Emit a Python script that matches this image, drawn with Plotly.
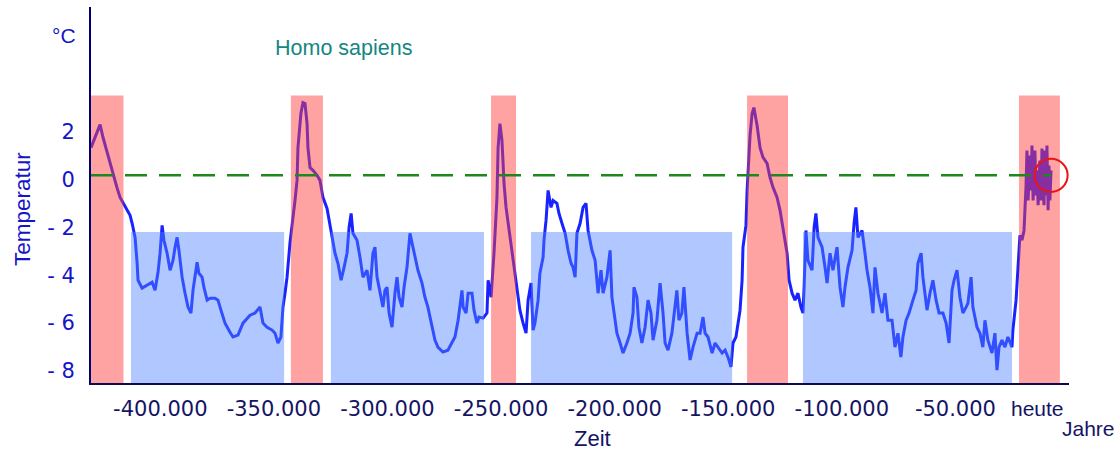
import plotly.graph_objects as go

# ---- data (years before present in thousands, temperature anomaly in °C) ----
age_ka = [
    -430.5, -426.5, -425.2, -422.1, -420.8, -419.1, -417.7, -416.4, -413.3, -412.4,
    -411.1, -410.2, -409.8, -408.0, -405.8, -403.6, -402.3, -401.0, -400.1, -399.2,
    -398.4, -397.0, -395.7, -394.4, -393.5, -392.6, -391.8, -390.4, -389.1, -387.8,
    -386.5, -385.6, -383.8, -383.0, -381.6, -380.8, -379.4, -378.1, -375.9, -374.6,
    -373.3, -371.5, -369.3, -368.0, -365.8, -363.6, -360.5, -358.3, -356.1, -354.8,
    -353.0, -350.8, -349.5, -348.2, -346.9, -346.0, -345.1, -344.2, -342.9, -341.6,
    -340.7, -339.8, -339.4, -338.1, -337.2, -336.3, -335.4, -335.0, -334.1, -332.8,
    -331.0, -329.7, -328.4, -326.6, -325.7, -324.4, -323.1, -321.8, -320.4, -319.1,
    -317.8, -316.9, -316.0, -315.2, -313.4, -312.1, -310.8, -309.0, -307.7, -306.4,
    -305.5, -304.6, -303.3, -302.0, -301.1, -300.2, -299.3, -298.0, -296.7, -295.8,
    -294.9, -293.6, -292.7, -291.4, -290.1, -288.8, -287.9, -286.6, -284.8, -283.5,
    -282.2, -280.4, -279.1, -277.8, -275.6, -273.4, -271.6, -270.3, -268.9, -267.2,
    -266.7, -265.4, -264.5, -262.8, -261.9, -260.6, -259.7, -257.9, -256.2, -255.7,
    -254.4, -253.1, -251.8, -251.3, -250.5, -249.6, -249.1, -248.7, -247.8, -246.9,
    -245.2, -244.3, -243.0, -241.7, -240.3, -239.0, -238.1, -236.8, -235.9, -235.1,
    -233.7, -232.9, -231.5, -231.1, -230.2, -229.3, -228.0, -227.1, -225.4, -224.5,
    -223.2, -221.8, -220.5, -219.2, -218.3, -217.4, -216.6, -215.2, -213.9, -212.6,
    -211.7, -210.0, -208.6, -207.3, -206.0, -205.1, -203.4, -202.0, -201.2, -200.3,
    -199.0, -197.6, -196.3, -194.6, -193.2, -191.9, -191.5, -190.2, -189.3, -188.0,
    -186.6, -185.3, -184.0, -183.1, -181.4, -180.0, -178.7, -177.8, -176.5, -174.8,
    -173.9, -172.6, -171.7, -170.4, -169.5, -168.1, -166.8, -165.5, -163.7, -162.4,
    -161.1, -160.2, -158.9, -157.1, -155.8, -154.5, -152.7, -151.4, -150.1, -148.8,
    -147.9, -146.6, -145.7, -144.8, -143.9, -143.5, -142.2, -141.7, -140.4, -139.5,
    -138.7, -137.3, -136.0, -134.7, -132.9, -131.6, -130.3, -128.5, -127.2, -125.9,
    -124.1, -123.2, -121.9, -120.6, -119.3, -118.0, -117.1, -116.6, -115.8, -114.9,
    -113.1, -112.2, -111.4, -110.5, -108.7, -107.4, -106.5, -105.2, -103.9, -102.1,
    -100.8, -99.5, -98.6, -97.3, -95.5, -94.6, -93.8, -92.9, -91.1, -89.8,
    -88.9, -87.6, -86.3, -85.4, -84.1, -82.3, -81.0, -79.7, -77.9, -76.6,
    -75.3, -74.0, -73.1, -71.7, -70.4, -68.7, -67.3, -66.5, -65.1, -64.3,
    -62.5, -61.2, -59.9, -58.5, -57.2, -55.5, -54.1, -52.8, -51.5, -50.6,
    -49.3, -48.0, -46.7, -45.3, -44.5, -43.1, -42.3, -40.5, -39.2, -37.9,
    -37.0, -35.7, -33.9, -32.6, -31.7, -30.8, -29.5, -28.2, -26.9, -25.1,
    -24.7, -23.3, -22.4, -21.6, -20.7, -19.8, -18.9, -18.5, -18.0, -17.2,
    -16.7, -16.3, -15.8, -15.0, -14.5, -14.1, -13.6, -12.8, -12.3, -11.9,
    -11.4, -11.0, -10.6, -10.1, -9.7, -9.2, -8.8, -8.4, -7.9,
]
temp_c = [
    1.33, 2.29, 1.75, 0.67, 0.17, -0.33, -0.75, -0.96, -1.50, -1.83,
    -2.42, -3.50, -4.21, -4.54, -4.42, -4.29, -4.63, -3.88, -3.08, -1.92,
    -2.54, -3.08, -3.79, -3.38, -2.83, -2.42, -2.96, -4.08, -4.75, -5.33,
    -5.58, -4.63, -3.46, -3.92, -4.08, -4.50, -5.04, -4.96, -4.96, -5.04,
    -5.46, -6.00, -6.38, -6.58, -6.50, -6.00, -5.67, -5.58, -5.33, -6.00,
    -6.17, -6.29, -6.42, -6.83, -6.58, -5.33, -4.75, -4.08, -2.63, -1.71,
    -0.88, -0.04, 1.33, 2.75, 3.21, 3.17, 2.33, 1.33, 0.50, 0.38,
    0.17, -0.04, -0.75, -1.21, -1.71, -2.25, -3.08, -3.50, -4.21, -3.67,
    -3.08, -2.00, -1.42, -2.25, -2.54, -3.25, -4.08, -3.79, -4.63, -3.08,
    -2.83, -4.08, -4.75, -5.33, -4.63, -4.50, -5.58, -6.17, -4.75, -4.08,
    -4.92, -5.33, -4.50, -3.67, -2.25, -2.83, -3.25, -3.79, -4.33, -4.92,
    -5.33, -6.17, -6.71, -7.00, -7.21, -7.13, -6.83, -6.58, -5.88, -4.63,
    -5.33, -5.58, -4.75, -4.75, -5.46, -6.00, -5.75, -5.79, -5.58, -4.21,
    -4.92, -3.08, -0.75, 1.33, 2.33, 1.63, 0.67, -0.17, -1.17, -1.83,
    -3.08, -3.50, -4.63, -5.46, -6.00, -6.42, -5.04, -4.33, -6.29, -6.00,
    -5.04, -3.92, -3.25, -2.54, -1.71, -0.46, -1.17, -0.88, -1.00, -1.42,
    -1.83, -2.25, -2.96, -3.50, -3.67, -4.08, -2.25, -1.83, -1.17, -1.00,
    -2.13, -2.96, -3.38, -4.75, -3.79, -4.75, -4.08, -2.96, -4.92, -5.58,
    -6.42, -6.83, -7.25, -6.83, -6.42, -5.58, -4.50, -4.92, -6.17, -6.83,
    -6.17, -5.04, -5.58, -6.71, -5.88, -4.33, -5.58, -6.83, -7.13, -6.42,
    -5.58, -4.63, -5.88, -5.58, -4.50, -6.42, -7.54, -7.00, -6.42, -6.42,
    -5.75, -6.42, -6.58, -7.25, -6.83, -7.00, -7.25, -7.13, -7.42, -7.83,
    -6.83, -6.58, -6.00, -5.46, -4.21, -2.83, -1.92, -0.46, 1.83, 2.75,
    3.00, 2.25, 1.33, 0.92, 0.67, 0.08, -0.33, -0.75, -1.29, -2.00,
    -3.08, -4.21, -4.75, -5.04, -4.75, -5.33, -5.58, -4.50, -2.13, -3.38,
    -3.79, -2.00, -1.42, -2.42, -2.83, -3.67, -4.33, -3.08, -3.79, -2.83,
    -4.50, -5.33, -4.50, -3.67, -2.96, -1.83, -1.17, -2.42, -2.13, -3.08,
    -3.79, -4.50, -5.58, -3.67, -4.75, -5.58, -4.75, -5.88, -5.88, -7.00,
    -6.42, -7.42, -6.58, -5.88, -5.58, -5.04, -4.63, -3.50, -3.08, -4.08,
    -5.46, -4.75, -4.21, -5.04, -5.58, -5.58, -6.00, -6.83, -4.63, -4.21,
    -3.79, -4.92, -5.58, -5.33, -5.17, -4.08, -5.33, -6.17, -6.42, -7.00,
    -5.88, -6.71, -7.25, -6.42, -7.96, -7.00, -6.71, -7.00, -6.58, -7.00,
    -6.29, -5.04, -3.79, -2.33, -2.54, -2.13, -0.25, 1.21, -0.88, 1.00,
    -0.46, 1.42, -0.88, 1.21, -0.67, 0.38, -1.08, 0.79, -0.88, 1.29,
    -0.25, -1.08, 1.21, -0.67, 1.42, -1.29, 0.58, -0.88, 0.38,
]

# warm periods (interglacials) and cold periods (glacials), in ka
warm_start = [-430.5, -342.5, -254.4, -141.7, -22.0]
warm_end = [-416.2, -328.4, -243.4, -123.7, -4.0]
cold_start = [-412.9, -324.9, -236.8, -117.1]
cold_end = [-345.5, -257.5, -148.3, -25.1]

x_tick_vals = [-400, -350, -300, -250, -200, -150, -100, -50]
x_tick_text = ["-400.000", "-350.000", "-300.000", "-250.000",
               "-200.000", "-150.000", "-100.000", "-50.000"]
y_tick_vals = [2, 0, -2, -4, -6, -8]
y_tick_text = ["2", "0", "- 2", "- 4", "- 6", "- 8"]

reference_temp = 0.17
today_marker_ka = -7.9
today_marker_temp = 0.17

X_MIN, X_MAX = -430.5, 0.0
Y_MIN, Y_MAX = -8.5, 7.2
WARM_TOP = 3.5
COLD_TOP = -2.2

years = [a * 1000 for a in age_ka]

fig = go.Figure()
fig.add_trace(go.Scatter(
    x=years, y=temp_c, mode="lines",
    line=dict(color="rgb(25,35,255)", width=3),
    hoverinfo="skip", showlegend=False,
))

shapes = []
for s, e in zip(warm_start, warm_end):
    shapes.append(dict(type="rect", xref="x", yref="y", x0=s * 1000, x1=e * 1000,
                       y0=Y_MIN, y1=WARM_TOP, fillcolor="rgba(255,60,60,0.48)",
                       line=dict(width=0), layer="above"))
for s, e in zip(cold_start, cold_end):
    shapes.append(dict(type="rect", xref="x", yref="y", x0=s * 1000, x1=e * 1000,
                       y0=Y_MIN, y1=COLD_TOP, fillcolor="rgba(80,130,255,0.45)",
                       line=dict(width=0), layer="above"))
shapes.append(dict(type="line", xref="x", yref="y", x0=X_MIN * 1000, x1=today_marker_ka * 1000,
                   y0=reference_temp, y1=reference_temp,
                   line=dict(color="rgb(30,135,30)", width=2.5, dash="22px,12px"), layer="above"))
r_x, r_y = 7300, 0.69
shapes.append(dict(type="circle", xref="x", yref="y",
                   x0=today_marker_ka * 1000 - r_x, x1=today_marker_ka * 1000 + r_x,
                   y0=today_marker_temp - r_y, y1=today_marker_temp + r_y,
                   line=dict(color="rgb(235,20,20)", width=2), fillcolor="rgba(0,0,0,0)",
                   layer="above"))

navy = "rgb(20,20,100)"
blue = "rgb(20,20,200)"
txt_font = "Liberation Sans, Arial, sans-serif"
tick_font = "DejaVu Sans, sans-serif"

annotations = [
    dict(text="°C", x=-0.0276, y=0.9255, xref="paper", yref="paper", showarrow=False,
         xanchor="center", yanchor="middle", font=dict(family=txt_font, size=21, color=blue)),
    dict(text="Homo sapiens", x=0.2577, y=0.891, xref="paper", yref="paper", showarrow=False,
         xanchor="center", yanchor="middle", font=dict(family=txt_font, size=21.5, color="rgb(20,135,130)")),
    dict(text="Temperatur", x=-0.0695, y=0.4628, xref="paper", yref="paper", showarrow=False,
         textangle=-90, xanchor="center", yanchor="middle",
         font=dict(family=txt_font, size=22.5, color=blue)),
    dict(text="Zeit", x=0.5123, y=-0.1862, xref="paper", yref="paper", showarrow=False,
         xanchor="center", yanchor="bottom", font=dict(family=txt_font, size=22, color=navy)),
    dict(text="heute", x=0.9969, y=-0.0665, xref="paper", yref="paper", showarrow=False,
         xanchor="right", yanchor="middle", font=dict(family=txt_font, size=21, color=navy)),
    dict(text="Jahre", x=1.0199, y=-0.1197, xref="paper", yref="paper", showarrow=False,
         xanchor="center", yanchor="middle", font=dict(family=txt_font, size=21, color=navy)),
]

fig.update_layout(
    width=1120, height=453,
    margin=dict(l=91, r=51, t=7, b=70, pad=0),
    paper_bgcolor="white", plot_bgcolor="white",
    shapes=shapes, annotations=annotations,
    xaxis=dict(range=[X_MIN * 1000, X_MAX * 1000], showgrid=False, zeroline=False,
               showline=True, linecolor="rgb(10,10,90)", linewidth=2, ticks="",
               tickvals=[v * 1000 for v in x_tick_vals], ticktext=x_tick_text,
               tickfont=dict(family=tick_font, size=21, color=navy),
               ticklabelstandoff=6),
    yaxis=dict(range=[Y_MIN, Y_MAX], showgrid=False, zeroline=False,
               showline=True, linecolor="rgb(0,0,110)", linewidth=2, ticks="",
               tickvals=y_tick_vals, ticktext=y_tick_text,
               tickfont=dict(family=tick_font, size=21, color=blue),
               ticklabelstandoff=10),
)

fig.write_html("out.html")
